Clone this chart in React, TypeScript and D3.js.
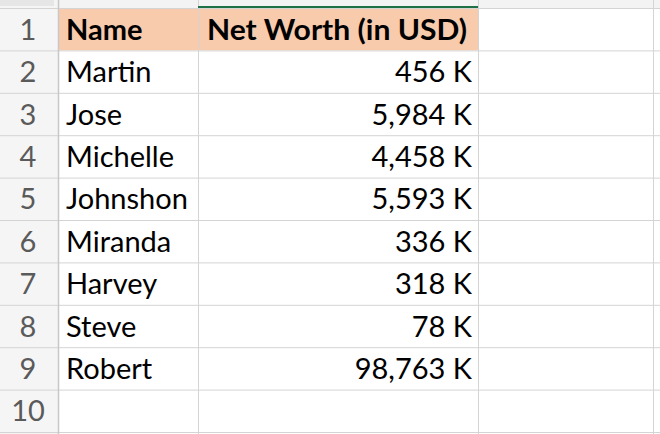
import React from "react";
import * as d3 from "d3";

const headers = ["Name", "Net Worth (in USD)"];
const names = ["Martin", "Jose", "Michelle", "Johnshon", "Miranda", "Harvey", "Steve", "Robert"];
const netWorthK = [456, 5984, 4458, 5593, 336, 318, 78, 98763];
const rowNumbers = [1, 2, 3, 4, 5, 6, 7, 8, 9, 10];

export default function App() {
  const W = 660, H = 434;
  const y = d3.scaleBand<number>().domain(rowNumbers).range([8.5, 8.5 + 42.4 * 10]);
  const colLines = [58.5, 198.5, 478.5, 653.5];
  const fmt = d3.format(",");
  const font = "Lato, Carlito, 'Open Sans', sans-serif";
  const fs = 29;
  const grid = "#d4d4d4";
  const ty = (r: number) => y(r)! + y.bandwidth() / 2 + 10;
  return (
    <div style={{ position: "fixed", left: 0, top: 0 }}>
      <svg width={W} height={H} style={{ display: "block", background: "#fff" }}>
        <rect x={0} y={0} width={W} height={8} fill="#f3f3f3" />
        <rect x={0} y={0} width={58} height={H} fill="#f5f5f5" />
        <rect x={0} y={0} width={54} height={6} fill="#e6e6e6" />
        <rect x={59} y={y(1)! + 0.5} width={419} height={y.bandwidth() - 1} fill="#F8CBAD" />
        {rowNumbers.map((r) => (
          <line key={"h" + r} x1={0} x2={W} y1={y(r)!} y2={y(r)!} stroke={grid} strokeWidth={1} />
        ))}
        <line x1={0} x2={W} y1={y(10)! + y.bandwidth()} y2={y(10)! + y.bandwidth()} stroke={grid} />
        {colLines.map((x, i) => (
          <line key={"v" + i} x1={x} x2={x} y1={0} y2={H} stroke={i === 0 ? "#c8c8c8" : grid} strokeWidth={i === 0 ? 1.5 : 1} />
        ))}
        <line x1={198} x2={478} y1={7} y2={7} stroke="#1e7145" strokeWidth={2} />
        {rowNumbers.map((r) => (
          <text key={"n" + r} x={28} y={ty(r)} textAnchor="middle" fontFamily={font} fontSize={fs} fill="#5a5a5a">{r}</text>
        ))}
        <text x={66} y={ty(1)} fontFamily={font} fontSize={fs} fontWeight={700} fill="#000">{headers[0]}</text>
        <text x={467} y={ty(1)} textAnchor="end" fontFamily={font} fontSize={fs} fontWeight={700} fill="#000" textLength={260} lengthAdjust="spacingAndGlyphs">{headers[1]}</text>
        {names.map((n, i) => (
          <g key={n}>
            <text x={66} y={ty(i + 2)} fontFamily={font} fontSize={fs} fill="#000">{n}</text>
            <text x={472} y={ty(i + 2)} textAnchor="end" fontFamily={font} fontSize={fs} fill="#000">{fmt(netWorthK[i]) + " K"}</text>
          </g>
        ))}
      </svg>
    </div>
  );
}
